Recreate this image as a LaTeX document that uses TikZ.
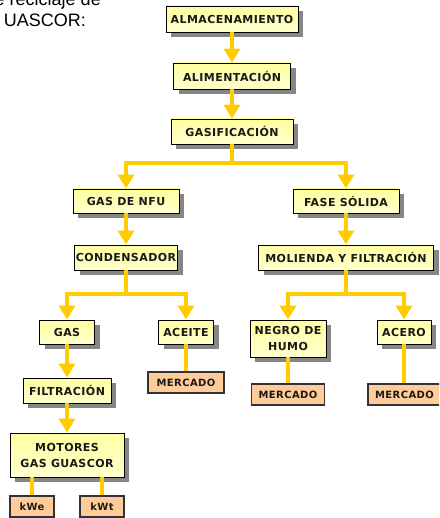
\documentclass[tikz,border=0pt]{standalone}
\usepackage{fontspec}
\newfontfamily\boxfont[LetterSpace=4]{DejaVu Sans}
\newfontfamily\headfont{Liberation Sans}
\usetikzlibrary{arrows.meta,shadows}
\definecolor{boxtop}{RGB}{255,255,160}
\definecolor{boxbottom}{RGB}{255,255,205}
\definecolor{salefill}{RGB}{255,204,153}
\definecolor{flowgold}{RGB}{255,204,0}
\tikzset{
  stepbox/.style={draw=black,line width=0.9pt,top color=boxtop,bottom color=boxbottom,
    drop shadow={shadow xshift=5pt,shadow yshift=-5pt,fill=gray!95,opacity=1},
    font=\boxfont\bfseries\fontsize{11}{16}\selectfont,text=black!90,align=center,inner sep=0pt},
  salebox/.style={draw=black!80,line width=1.2pt,fill=salefill,
    font=\boxfont\bfseries\fontsize{10}{12}\selectfont,text=black!90,inner sep=0pt},
  flow/.style={draw=flowgold,line width=4pt,-{Triangle[width=16pt,length=14pt]}},
  link/.style={draw=flowgold,line width=4pt},
  heading/.style={font=\headfont\fontsize{18}{21}\selectfont,inner sep=0pt}
}
\begin{document}
\begin{tikzpicture}[x=1pt,y=-1pt]
\path[use as bounding box,clip] (0,0) rectangle (439,518);
% heading, cut by the page edge
\node[heading,anchor=base east] (head1) at (101,6) {e reciclaje de};
\node[heading,anchor=base east] (head2) at (86,27) {UASCOR:};

% main line
\node[stepbox,minimum width=132pt,minimum height=26pt] (alm) at (232,19) {ALMACENAMIENTO};
\node[stepbox,minimum width=117pt,minimum height=26pt] (ali) at (232,76) {ALIMENTACIÓN};
\node[stepbox,minimum width=122pt,minimum height=25pt] (gas) at (232,131.5) {GASIFICACIÓN};

% gas branch
\node[stepbox,minimum width=106pt,minimum height=24pt] (nfu) at (126,201) {GAS DE NFU};
\node[stepbox,minimum width=103pt,minimum height=25pt] (cond) at (126,257.5) {CONDENSADOR};
\node[stepbox,minimum width=55pt,minimum height=24pt] (gasn) at (67,332) {GAS};
\node[stepbox,minimum width=55pt,minimum height=24pt] (oil) at (186,332) {ACEITE};
\node[stepbox,minimum width=88pt,minimum height=25pt] (filt) at (67,390.5) {FILTRACIÓN};
\node[stepbox,minimum width=114pt,minimum height=44pt] (mot) at (67,455) {MOTORES\\GAS GUASCOR};
\node[salebox,minimum width=76pt,minimum height=21pt] (sale1) at (186,382.5) {MERCADO};
\node[salebox,minimum width=44pt,minimum height=21pt] (kwe) at (32,506.5) {kWe};
\node[salebox,minimum width=44pt,minimum height=21pt] (kwt) at (102,506.5) {kWt};

% solid branch
\node[stepbox,minimum width=106pt,minimum height=24pt] (solid) at (346,201) {FASE SÓLIDA};
\node[stepbox,minimum width=175pt,minimum height=25pt] (mill) at (346,257.5) {MOLIENDA Y FILTRACIÓN};
\node[stepbox,minimum width=76pt,minimum height=37pt] (black) at (288,338.5) {NEGRO DE\\HUMO};
\node[stepbox,minimum width=54pt,minimum height=24pt] (steel) at (404,332) {ACERO};
\node[salebox,minimum width=73pt,minimum height=21pt] (sale2) at (288,394.5) {MERCADO};
\node[salebox,minimum width=73pt,minimum height=21pt] (sale3) at (404.5,394.5) {MERCADO};

% connectors
\draw[flow] (alm) -- (ali);
\draw[flow] (ali) -- (gas);
\draw[flow] (gas.south) -- ++(0,19) -| (nfu.north);
\draw[flow] (gas.south) -- ++(0,19) -| (solid.north);
\draw[flow] (nfu) -- (cond);
\draw[flow] (solid) -- (mill);
\draw[flow] (cond.south) -- ++(0,24) -| (gasn.north);
\draw[flow] (cond.south) -- ++(0,24) -| (oil.north);
\draw[flow] (mill.south) -- ++(0,24) -| (black.north);
\draw[flow] (mill.south) -- ++(0,24) -| (steel.north);
\draw[flow] (gasn) -- (filt);
\draw[flow] (filt) -- (mot);
\draw[link] (oil) -- (sale1);
\draw[link] (black) -- (sale2);
\draw[link] (steel.south) -- (steel.south |- sale3.north);
\draw[link] (mot.south -| kwe.north) -- (kwe.north);
\draw[link] (mot.south -| kwt.north) -- (kwt.north);
\end{tikzpicture}
\end{document}
